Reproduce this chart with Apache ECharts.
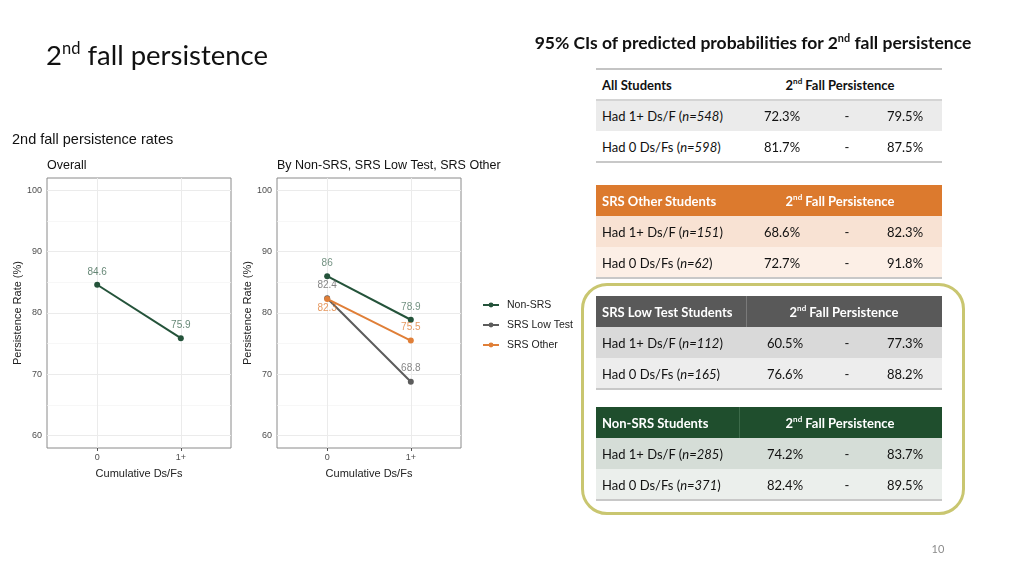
<!DOCTYPE html>
<html>
<head>
<meta charset="utf-8">
<script src="https://cdn.jsdelivr.net/npm/echarts@6/dist/echarts.min.js"></script>
<style>
  html, body { margin:0; padding:0; background:#fff; }
  #page { position:relative; width:1024px; height:576px; overflow:hidden; background:#fff; }
  #chart { position:absolute; left:0; top:0; width:1024px; height:576px; }
  .txt { position:absolute; font-family:Lato, 'Open Sans', sans-serif; color:#111; white-space:nowrap; z-index:2; }
  .cell { position:absolute; font-family:Lato, 'Open Sans', sans-serif; font-size:13px; white-space:nowrap; line-height:31px; z-index:2; }
  .bg { position:absolute; z-index:1; }
  sup { font-size:0.62em; line-height:0; position:relative; top:-0.05em; }
</style>
</head>
<body>
<div id="page">
  <div id="chart"></div>
</div>
<script>
// ---------------- data ----------------
const xLabels = ['0', '1+'];
const yTicks = [60, 70, 80, 90, 100];
const yMinorTicks = [65, 75, 85, 95];
const overallName = 'Overall';
const overallValues = [84.6, 75.9];
const groupNames = ['Non-SRS', 'SRS Low Test', 'SRS Other'];
const nonSrsValues = [86, 78.9];
const srsLowTestValues = [82.4, 68.8];
const srsOtherValues = [82.3, 75.5];

const ciGroups = ['All Students', 'SRS Other Students', 'SRS Low Test Students', 'Non-SRS Students'];
const ciRowLabels = ['Had 1+ Ds/F', 'Had 0 Ds/Fs'];
const ciN = [[548, 598], [151, 62], [112, 165], [285, 371]];
const ciLow = [[72.3, 81.7], [68.6, 72.7], [60.5, 76.6], [74.2, 82.4]];
const ciHigh = [[79.5, 87.5], [82.3, 91.8], [77.3, 88.2], [83.7, 89.5]];

// ---------------- slide text & tables (DOM) ----------------
const page = document.getElementById('page');
function add(cls, html, style) {
  const d = document.createElement('div');
  d.className = cls;
  d.innerHTML = html;
  Object.assign(d.style, style);
  page.appendChild(d);
  return d;
}
add('txt', '2<sup style="font-size:0.6em">nd</sup> fall persistence', {left:'46px', top:'38px', fontSize:'27.5px'});
add('txt', '95% CIs of predicted probabilities for 2<sup>nd</sup> fall persistence', {left:'511px', top:'32px', fontSize:'17.5px', fontWeight:'bold', width:'484px', textAlign:'center'});
add('txt', '10', {left:'928px', top:'542px', fontSize:'11px', color:'#8c8c8c', width:'20px', textAlign:'center'});

const tblLeft = 596, tblWidth = 346, rowH = 31;
const tblTops = [69, 185, 296, 407];
const headBg = ['#ffffff', '#dc7a2e', '#595959', '#1f4e2d'];
const headFg = ['#111111', '#ffffff', '#ffffff', '#ffffff'];
const row1Bg = ['#ebebeb', '#f8e2d3', '#d9d9d9', '#d5ddd7'];
const row2Bg = ['#ffffff', '#fcefe6', '#ededed', '#ebefec'];
const dividerX = [null, null, 746, 739];
const dividerC = [null, null, '#7a7a7a', '#3c6a49'];

ciGroups.forEach((g, t) => {
  const top = tblTops[t];
  add('bg', '', {left:tblLeft+'px', top:top+'px', width:tblWidth+'px', height:rowH+'px', background:headBg[t]});
  if (dividerX[t]) add('bg', '', {left:dividerX[t]+'px', top:top+'px', width:'1px', height:rowH+'px', background:dividerC[t]});
  add('bg', '', {left:tblLeft+'px', top:(top+rowH)+'px', width:tblWidth+'px', height:rowH+'px', background:row1Bg[t]});
  add('bg', '', {left:tblLeft+'px', top:(top+2*rowH)+'px', width:tblWidth+'px', height:rowH+'px', background:row2Bg[t]});
  if (t === 0) {
    add('bg', '', {left:tblLeft+'px', top:(top-1)+'px', width:tblWidth+'px', height:'2px', background:'#c4c4c4'});
    add('bg', '', {left:tblLeft+'px', top:(top+rowH-1)+'px', width:tblWidth+'px', height:'2px', background:'#d4d4d4'});
  }
  add('bg', '', {left:tblLeft+'px', top:(top+3*rowH-1)+'px', width:tblWidth+'px', height:'2px', background:'#c8c8c8'});
  add('cell', g, {left:'602px', top:(top+1)+'px', fontWeight:'bold', color:headFg[t]});
  add('cell', '2<sup>nd</sup> Fall Persistence', {left:(t===2?764:760)+'px', top:(top+1)+'px', width:'160px', textAlign:'center', fontWeight:'bold', color:headFg[t]});
  ciRowLabels.forEach((lab, r) => {
    const y = top + (r + 1) * rowH + 1;
    add('cell', lab + ' (<i>n=' + ciN[t][r] + '</i>)', {left:'602px', top:y+'px', color:'#111'});
    add('cell', ciLow[t][r].toFixed(1) + '%', {left:(t>=2?745:742)+'px', top:y+'px', width:'80px', textAlign:'center', color:'#111'});
    add('cell', '-', {left:'827px', top:y+'px', width:'40px', textAlign:'center', color:'#111'});
    add('cell', ciHigh[t][r].toFixed(1) + '%', {left:'865px', top:y+'px', width:'80px', textAlign:'center', color:'#111'});
  });
});
add('bg', '', {left:'581px', top:'283px', width:'384px', height:'232px', border:'3px solid #c9c670', borderRadius:'26px', boxSizing:'border-box', zIndex:3});

// ---------------- charts (ECharts) ----------------
const colors = {'Overall':'#24533a', 'Non-SRS':'#24533a', 'SRS Low Test':'#5c5c5c', 'SRS Other':'#e07f38'};
const labelColors = {'Overall':'rgba(36,83,58,0.7)', 'Non-SRS':'rgba(36,83,58,0.65)', 'SRS Low Test':'rgba(92,92,92,0.75)', 'SRS Other':'rgba(224,127,56,0.8)'};
const FONT = "'Liberation Sans', Arial, sans-serif";

const gridLines = yTicks.map(v => ({yAxis:v, lineStyle:{color:'#ebebeb', width:1, type:'solid'}}))
  .concat(yMinorTicks.map(v => ({yAxis:v, lineStyle:{color:'#f4f4f4', width:0.7, type:'solid'}})))
  .concat(xLabels.map((_, i) => ({xAxis:i, lineStyle:{color:'#ebebeb', width:1, type:'solid'}})));

function xAxisCfg(gi) {
  return {
    type:'value', gridIndex:gi, min:-0.6, max:1.6,
    name:'Cumulative Ds/Fs', nameLocation:'middle', nameGap:20,
    nameTextStyle:{fontSize:11, color:'#222', fontFamily:FONT},
    axisLine:{show:false},
    axisTick:{show:true, length:3, lineStyle:{color:'#555'}, customValues:xLabels.map((_, i) => i)},
    axisLabel:{fontSize:9, color:'#4d4d4d', margin:5, fontFamily:FONT, customValues:xLabels.map((_, i) => i), formatter:v => xLabels[Math.round(v)]},
    splitLine:{show:false}
  };
}
function yAxisCfg(gi) {
  return {
    type:'value', gridIndex:gi, min:58, max:102,
    name:'Persistence Rate (%)', nameLocation:'middle', nameGap:23, nameRotate:90,
    nameTextStyle:{fontSize:11, color:'#222', fontFamily:FONT},
    axisLine:{show:false},
    axisTick:{show:true, length:3, lineStyle:{color:'#555'}, customValues:yTicks},
    axisLabel:{fontSize:9, color:'#4d4d4d', margin:5, fontFamily:FONT, customValues:yTicks},
    splitLine:{show:false}
  };
}
function lineSeries(name, values, gi, withGrid, labelPosFirst) {
  return {
    name:name, type:'line', xAxisIndex:gi, yAxisIndex:gi, z:3,
    data:values.map((v, i) => {
      const d = {value:[i, v]};
      if (i === 0 && labelPosFirst) d.label = {position:labelPosFirst, distance:1};
      return d;
    }),
    symbol:'circle', symbolSize:6,
    itemStyle:{color:colors[name]},
    lineStyle:{color:colors[name], width:2},
    label:{show:true, position:'top', distance:5, fontSize:10, fontFamily:FONT, color:labelColors[name], formatter:p => String(p.value[1])},
    emphasis:{disabled:true},
    markLine: withGrid ? {silent:true, symbol:'none', z:1, label:{show:false}, lineStyle:{type:'solid'}, data:gridLines} : undefined,
    animation:false
  };
}

const chart = echarts.init(document.getElementById('chart'), null, {renderer:'canvas'});
chart.setOption({
  animation:false,
  title:[
    {text:'2nd fall persistence rates', left:12, top:132, padding:0, textStyle:{fontSize:14.5, fontWeight:'normal', color:'#111', fontFamily:FONT}},
    {text:'Overall', left:47, top:159, padding:0, textStyle:{fontSize:12.5, fontWeight:'normal', color:'#111', fontFamily:FONT}},
    {text:'By Non-SRS, SRS Low Test, SRS Other', left:277, top:159, padding:0, textStyle:{fontSize:12.5, fontWeight:'normal', color:'#111', fontFamily:FONT}}
  ],
  grid:[
    {left:47, top:178, width:184, height:270, show:true, borderColor:'#8a8a8a', borderWidth:1, backgroundColor:'#fff'},
    {left:277, top:178, width:184, height:270, show:true, borderColor:'#8a8a8a', borderWidth:1, backgroundColor:'#fff'}
  ],
  xAxis:[xAxisCfg(0), xAxisCfg(1)],
  yAxis:[yAxisCfg(0), yAxisCfg(1)],
  legend:{
    data:groupNames, orient:'vertical', left:482, top:299, padding:0, itemWidth:16, itemHeight:6, itemGap:8,
    textStyle:{fontSize:10.5, color:'#222', fontFamily:FONT, lineHeight:12, padding:[0, 0, 0, 3]}, selectedMode:false
  },
  series:[
    lineSeries(overallName, overallValues, 0, true),
    lineSeries(groupNames[0], nonSrsValues, 1, true),
    lineSeries(groupNames[1], srsLowTestValues, 1, false),
    lineSeries(groupNames[2], srsOtherValues, 1, false, 'bottom')
  ]
});
</script>
</body>
</html>
